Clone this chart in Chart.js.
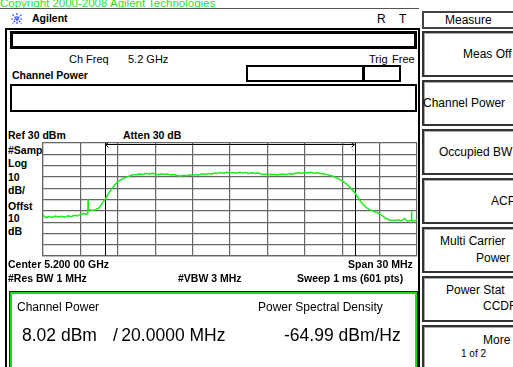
<!DOCTYPE html>
<html>

<head>
    <title>Channel Power</title>
    <meta charset="utf-8">
    <style>
        body {
            margin: 0;
            width: 513px;
            height: 367px;
            overflow: hidden;
            position: relative;
            background: #fff;
            font-family: "Liberation Sans", Arial, sans-serif;
            color: #000;
        }

        .abs {
            position: absolute;
            white-space: nowrap;
        }

        .b {
            font-weight: bold;
            font-size: 10.5px;
        }

        .lbl {
            font-size: 11px;
        }

        .box {
            position: absolute;
            box-sizing: border-box;
            background: #fff;
        }

        .key {
            position: absolute;
            box-sizing: border-box;
            left: 422px;
            width: 100px;
            height: 46px;
            border: 2px solid #333;
            box-shadow: inset 1px 1px 0 #aaa;
        }

        .kt {
            position: absolute;
            font-size: 12px;
            white-space: nowrap;
        }
    </style>
</head>

<body>
    <!-- en-tete -->
    <div class="abs" style="left:0; top:-3px; font-size:11.5px; color:#2fe02f;">Copyright 2000-2008 Agilent Technologies</div>
    <div class="abs" style="left:0; top:8px; width:419px; height:1px; background:#555;"></div>

    <svg class="abs" style="left:11px; top:13px;" width="12" height="12" viewBox="0 0 12 12">
        <g stroke="#2c4cff" stroke-width="1.2" stroke-dasharray="2 1">
            <line x1="6" y1="0" x2="6" y2="12" />
            <line x1="0" y1="6" x2="12" y2="6" />
            <line x1="1.5" y1="1.5" x2="10.5" y2="10.5" />
            <line x1="10.5" y1="1.5" x2="1.5" y2="10.5" />
        </g>
    </svg>
    <div class="abs b" style="left:32px; top:12px;">Agilent</div>
    <div class="abs" style="left:377px; top:12px; font-size:12px;">R</div>
    <div class="abs" style="left:399px; top:12px; font-size:12px;">T</div>

    <!-- cadre gauche -->
    <div class="box" style="left:5px; top:28px; width:415px; height:345px; border:2px solid #000; border-bottom:none;"></div>
    <div class="box" style="left:10px; top:31px; width:407px; height:18px; border:3px solid #000;"></div>

    <div class="abs lbl" style="left:69px; top:53px;">Ch Freq</div>
    <div class="abs lbl" style="left:128px; top:53px;">5.2 GHz</div>
    <div class="abs lbl" style="left:369px; top:53px;">Trig</div>
    <div class="abs lbl" style="left:392px; top:53px;">Free</div>

    <div class="abs b" style="left:12px; top:69px;">Channel Power</div>
    <div class="box" style="left:246px; top:65px; width:118px; height:17px; border:2px solid #000;"></div>
    <div class="box" style="left:363px; top:65px; width:38px; height:17px; border:2px solid #000;"></div>
    <div class="box" style="left:10px; top:84px; width:407px; height:28px; border:2px solid #000;"></div>

    <div class="abs b" style="left:8px; top:129px;">Ref 30 dBm</div>
    <div class="abs b" style="left:123px; top:129px;">Atten 30 dB</div>

    <div class="abs b" style="left:8px; top:144px;">#Samp</div>
    <div class="abs b" style="left:8px; top:157px;">Log</div>
    <div class="abs b" style="left:8px; top:171px;">10</div>
    <div class="abs b" style="left:8px; top:184px;">dB/</div>
    <div class="abs b" style="left:8px; top:200px;">Offst</div>
    <div class="abs b" style="left:8px; top:212px;">10</div>
    <div class="abs b" style="left:8px; top:225px;">dB</div>

    <canvas id="trace" class="abs" style="left:38px; top:138px;" width="384" height="124"></canvas>

    <div class="abs b" style="left:8px; top:258px;">Center 5.200 00 GHz</div>
    <div class="abs b" style="left:348px; top:258px;">Span 30 MHz</div>
    <div class="abs b" style="left:8px; top:272px;">#Res BW 1 MHz</div>
    <div class="abs b" style="left:178px; top:272px;">#VBW 3 MHz</div>
    <div class="abs b" style="left:297px; top:272px;">Sweep 1 ms (601 pts)</div>

    <!-- resultat -->
    <div class="box" style="left:9px; top:291px; width:409px; height:90px; border:1px solid #222;"></div>
    <div class="box" style="left:10px; top:292px; width:407px; height:88px; border:2px solid #14e014;"></div>
    <div class="abs" style="left:17px; top:300px; font-size:12px;">Channel Power</div>
    <div class="abs" style="left:258px; top:300px; font-size:12px;">Power Spectral Density</div>
    <div class="abs" style="left:22px; top:325px; font-size:17.5px;">8.02 dBm</div>
    <div class="abs" style="left:113px; top:325px; font-size:17.5px;">/&thinsp;20.0000 MHz</div>
    <div class="abs" style="left:284px; top:325px; font-size:17.5px;">-64.99 dBm/Hz</div>

    <!-- touches -->
    <div class="box" style="left:422px; top:11px; width:100px; height:18px; border:2px solid #444;"></div>
    <div class="kt" style="left:445px; top:13px;">Measure</div>

    <div class="key" style="top:31px;"></div>
    <div class="kt" style="left:463px; top:47px;">Meas Off</div>
    <div class="key" style="top:80px;"></div>
    <div class="kt" style="left:423px; top:96px;">Channel Power</div>
    <div class="key" style="top:129px;"></div>
    <div class="kt" style="left:439px; top:145px;">Occupied BW</div>
    <div class="key" style="top:178px;"></div>
    <div class="kt" style="left:491px; top:194px;">ACP</div>
    <div class="key" style="top:227px;"></div>
    <div class="kt" style="left:440px; top:234px;">Multi Carrier</div>
    <div class="kt" style="left:476px; top:251px;">Power</div>
    <div class="key" style="top:276px;"></div>
    <div class="kt" style="left:446px; top:283px;">Power Stat</div>
    <div class="kt" style="left:483px; top:299px;">CCDF</div>
    <div class="key" style="top:325px; height:50px;"></div>
    <div class="kt" style="left:483px; top:333px;">More</div>
    <div class="kt" style="left:461px; top:348px; font-size:10px;">1 of 2</div>

    <script src="https://cdn.jsdelivr.net/npm/chart.js@4.4.0/dist/chart.umd.min.js"></script>
    <script>
        // frequence relative au centre (MHz) et niveau (dBm)
        const freqMHz = [
            -15, -14.75, -14.5, -14.25, -14, -13.75, -13.5, -13.25, -13, -12.75,
            -12.5, -12.25, -12, -11.75, -11.5, -11.4, -11.38, -11.36, -11.25, -11,
            -10.75, -10.5, -10.25, -10, -9.75, -9.5, -9.25, -9, -8.75, -8.5,
            -8.25, -8, -7.75, -7.5, -7.25, -7, -6.75, -6.5, -6.25, -6,
            -5.75, -5.5, -5.25, -5, -4.75, -4.5, -4.25, -4, -3.75, -3.5,
            -3.25, -3, -2.75, -2.5, -2.25, -2, -1.75, -1.5, -1.25, -1,
            -0.75, -0.5, -0.25, 0, 0.25, 0.5, 0.75, 1, 1.25, 1.5,
            1.75, 2, 2.25, 2.5, 2.75, 3, 3.25, 3.5, 3.75, 4,
            4.25, 4.5, 4.75, 5, 5.25, 5.5, 5.75, 6, 6.25, 6.5,
            6.75, 7, 7.25, 7.5, 7.75, 8, 8.25, 8.5, 8.75, 9,
            9.25, 9.5, 9.75, 10, 10.25, 10.5, 10.75, 11, 11.25, 11.5,
            11.75, 12, 12.25, 12.5, 12.75, 13, 13.25, 13.5, 13.75, 14,
            14.25, 14.5, 14.54, 14.56, 14.58, 14.75, 15
        ];
        const levelDbm = [
            -34.0, -36.0, -35.0, -35.8, -34.6, -35.5, -34.8, -35.6, -34.5, -35.2,
            -34.0, -34.6, -33.2, -32.4, -33.0, -32.0, -19.8, -29.5, -29.0, -29.8,
            -28.8, -27.4, -23.2, -19.6, -14.6, -10.8, -7.2, -4.2, -2.4, -1.0,
            0.0, 1.0, 1.8, 2.0, 2.6, 2.2, 3.0, 2.4, 3.2, 2.6,
            2.0, 2.8, 2.2, 2.6, 1.6, 2.0, 1.2, 0.8, 1.4, 1.0,
            1.8, 1.2, 2.0, 1.6, 2.8, 2.2, 3.0, 2.6, 3.4, 3.0,
            3.8, 3.2, 4.0, 3.4, 3.8, 3.2, 4.0, 3.4, 3.8, 3.0,
            3.6, 3.0, 3.4, 2.6, 2.2, 2.8, 2.0, 2.4, 1.8, 2.2,
            2.6, 2.0, 2.8, 2.4, 3.2, 3.6, 3.0, 3.8, 3.4, 4.0,
            3.2, 3.6, 2.8, 3.0, 2.0, 1.4, 0.6, -0.6, -2.0, -3.6,
            -5.4, -7.8, -10.8, -13.8, -18.0, -22.0, -25.2, -27.6, -29.2, -30.4,
            -31.4, -32.6, -34.6, -36.6, -38.0, -38.6, -38.6, -38.0, -39.0, -36.8,
            -39.2, -38.4, -38.8, -30.5, -38.6, -39.0, -38.2
        ];

        // bornes de la bande d'integration (MHz)
        const chanEdges = [-10, 10];

        // axe : Ref 30 dBm, 10 dB/div, span 30 MHz
        const yTop = 30;
        const yBottom = -70;
        const dbPerDiv = 10;
        const xLeft = -15;
        const xRight = 15;
        const mhzPerDiv = 3;

        var points = freqMHz.map((f, i) => ({ x: f, y: levelDbm[i] }));

        // traits noirs de la bande + fleche en haut
        const chanPlugin = {
            id: 'chanMarkers',
            beforeDatasetsDraw(chart) {
                const ctx = chart.ctx;
                const area = chart.chartArea;
                const xs = chanEdges.map(v => chart.scales.x.getPixelForValue(v));
                const ya = area.top + 1.5;
                ctx.save();
                ctx.strokeStyle = '#000';
                ctx.lineWidth = 1;
                xs.forEach(x => {
                    ctx.beginPath();
                    ctx.moveTo(Math.round(x) + 0.5, area.top);
                    ctx.lineTo(Math.round(x) + 0.5, area.bottom);
                    ctx.stroke();
                });
                ctx.beginPath();
                ctx.moveTo(xs[0], ya);
                ctx.lineTo(xs[1], ya);
                ctx.stroke();
                // pointes
                ctx.beginPath();
                ctx.moveTo(xs[0] + 3, ya - 2);
                ctx.lineTo(xs[0] + 0.5, ya);
                ctx.lineTo(xs[0] + 3, ya + 3);
                ctx.moveTo(xs[1] - 3, ya - 2);
                ctx.lineTo(xs[1] - 0.5, ya);
                ctx.lineTo(xs[1] - 3, ya + 3);
                ctx.stroke();
                ctx.restore();
            }
        };

        const gridStyle = {
            color: '#666',
            lineWidth: 1.2,
            drawTicks: false
        };

        new Chart(document.getElementById('trace'), {
            type: 'line',
            data: {
                datasets: [{
                    data: points,
                    borderColor: '#1aee1a',
                    borderWidth: 1.5,
                    pointRadius: 0,
                    tension: 0
                }]
            },
            options: {
                responsive: false,
                animation: false,
                devicePixelRatio: 1,
                layout: {
                    padding: { left: 5, right: 5, top: 5, bottom: 6 }
                },
                plugins: {
                    legend: { display: false },
                    tooltip: { enabled: false }
                },
                scales: {
                    x: {
                        type: 'linear',
                        min: xLeft,
                        max: xRight,
                        ticks: { display: false, stepSize: mhzPerDiv },
                        grid: gridStyle,
                        border: { color: '#666', width: 1.2 }
                    },
                    y: {
                        min: yBottom,
                        max: yTop,
                        ticks: { display: false, stepSize: dbPerDiv },
                        grid: gridStyle,
                        border: { color: '#666', width: 1.2 }
                    }
                }
            },
            plugins: [chanPlugin]
        });
    </script>
</body>

</html>
